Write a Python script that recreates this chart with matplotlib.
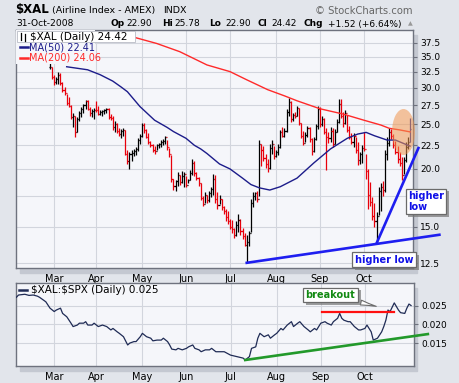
import numpy as np
import pandas as pd
import matplotlib
matplotlib.use("Agg")
import matplotlib.pyplot as plt
from matplotlib.patches import Rectangle, Ellipse
from matplotlib.lines import Line2D
from matplotlib import patheffects

# trading days on the chart (index 0 = 5-Feb-2008)
holidays = ["2008-02-18", "2008-03-21", "2008-05-26", "2008-07-04", "2008-09-01"]
days = pd.bdate_range("2008-02-05", "2008-10-31")
days = days[~days.isin(pd.to_datetime(holidays))]

# $XAL daily bars, first visible bar is trading day 16
first_bar = 16
highs = [34.0, 33.3, 31.9, 31.6, 32.4, 32.3, 30.8, 30.1, 29.0, 28.6,
         27.5, 26.4, 26.0, 25.9, 26.7, 27.3, 27.7, 28.2, 28.2, 27.2,
         27.0, 27.1, 28.0, 27.4, 26.8, 26.9, 27.0, 27.1, 27.1, 26.3,
         26.0, 25.4, 25.1, 24.5, 24.4, 24.5, 24.3, 22.0, 21.8, 22.0,
         22.1, 22.3, 23.3, 23.8, 25.2, 25.1, 24.4, 23.9, 23.0, 22.7,
         22.4, 22.7, 22.8, 23.1, 23.2, 23.6, 23.1, 22.2, 21.4, 19.0,
         18.9, 19.7, 19.4, 19.8, 19.7, 19.3, 19.0, 19.9, 21.0, 20.8,
         19.7, 19.2, 18.6, 17.5, 17.8, 17.6, 17.9, 18.3, 19.5, 19.4,
         17.8, 17.6, 17.2, 16.6, 16.4, 16.2, 15.6, 15.5, 14.9, 15.4,
         16.0, 15.6, 14.9, 14.5, 14.4, 14.7, 17.2, 17.8, 17.8, 17.9,
         23.1, 22.7, 22.4, 21.5, 21.0, 22.6, 23.1, 22.4, 22.0, 22.6,
         24.3, 24.6, 24.5, 27.0, 28.5, 28.0, 26.5, 26.6, 27.4, 27.1,
         25.2, 24.2, 24.0, 24.8, 24.6, 23.3, 23.5, 25.0, 27.4, 27.2,
         26.0, 25.8, 24.5, 24.0, 24.6, 24.5, 24.4, 25.6, 28.4, 28.3,
         26.6, 26.9, 26.2, 24.8, 23.9, 23.9, 23.5, 22.9, 21.8, 22.5,
         24.0, 21.5, 20.0, 18.7, 17.4, 16.9, 16.1, 18.3, 18.6, 18.8,
         22.0, 23.4, 24.5, 24.4, 23.8, 23.0, 22.4, 21.8, 21.2, 21.2,
         22.9, 23.5, 25.78]
lows = [33.0, 31.4, 30.4, 30.6, 30.6, 30.4, 29.4, 28.9, 27.5, 27.2,
        25.7, 24.7, 23.5, 24.1, 25.4, 25.9, 26.5, 27.0, 26.8, 26.0,
        25.9, 25.7, 26.6, 26.2, 26.2, 26.1, 26.3, 26.4, 25.7, 25.5,
        24.3, 24.1, 23.9, 23.6, 23.3, 23.6, 21.4, 20.5, 20.0, 20.8,
        21.3, 21.4, 21.9, 22.6, 23.5, 23.9, 23.3, 22.7, 22.3, 21.8,
        21.6, 22.0, 22.2, 22.3, 22.5, 22.6, 22.0, 21.2, 18.7, 18.0,
        17.9, 18.4, 18.5, 18.6, 18.3, 18.3, 18.6, 18.9, 19.4, 19.3,
        18.9, 18.4, 17.1, 16.6, 16.9, 16.9, 17.0, 17.4, 17.6, 16.9,
        16.4, 16.8, 16.3, 16.0, 15.4, 15.2, 14.8, 14.5, 14.2, 14.3,
        14.6, 14.4, 14.1, 13.6, 12.6, 13.6, 14.6, 16.5, 17.1, 17.0,
        17.5, 20.3, 20.8, 20.1, 19.7, 20.0, 21.6, 21.0, 21.2, 21.4,
        22.2, 23.4, 23.4, 24.1, 26.0, 25.3, 25.4, 25.8, 26.0, 24.9,
        23.3, 22.5, 22.9, 23.4, 22.9, 21.4, 21.8, 23.1, 24.4, 24.6,
        24.8, 23.8, 19.9, 22.8, 22.9, 22.3, 22.6, 24.0, 25.2, 25.8,
        24.6, 25.0, 24.0, 23.2, 22.6, 22.3, 21.7, 20.4, 20.5, 20.6,
        21.9, 19.0, 16.4, 16.6, 15.5, 15.0, 13.8, 15.9, 16.2, 17.5,
        17.8, 20.9, 22.4, 23.2, 22.2, 21.6, 20.6, 20.3, 18.9, 19.5,
        20.7, 22.1, 22.90]
closes = [33.2, 31.6, 30.8, 31.3, 32.0, 30.7, 29.6, 29.2, 27.8, 27.4,
          25.9, 26.1, 24.0, 25.6, 26.4, 27.0, 27.5, 28.0, 27.0, 26.4,
          26.7, 26.9, 26.8, 26.3, 26.6, 26.7, 26.8, 27.0, 25.9, 25.8,
          24.6, 25.0, 24.2, 23.8, 24.2, 24.3, 21.6, 20.8, 21.5, 21.7,
          21.9, 22.1, 23.1, 23.6, 24.9, 24.3, 23.5, 22.9, 22.5, 22.0,
          21.9, 22.5, 22.6, 22.9, 23.0, 23.4, 22.3, 21.5, 19.0, 18.4,
          18.8, 19.4, 18.7, 19.3, 19.5, 18.5, 18.9, 19.6, 20.6, 19.6,
          19.1, 18.6, 17.3, 16.8, 17.6, 17.1, 17.7, 18.1, 19.0, 17.2,
          16.7, 17.2, 16.5, 16.2, 15.7, 15.4, 15.0, 14.8, 14.4, 15.1,
          15.5, 14.7, 14.3, 13.7, 13.9, 14.5, 16.9, 17.5, 17.7, 17.2,
          22.6, 22.0, 21.1, 20.5, 20.1, 22.2, 22.6, 21.3, 21.8, 22.3,
          24.0, 23.6, 24.2, 26.6, 27.9, 25.6, 26.2, 26.0, 27.1, 25.1,
          23.6, 22.8, 23.7, 24.5, 23.2, 21.9, 23.2, 24.8, 27.0, 25.0,
          25.7, 24.0, 23.5, 23.3, 24.2, 22.7, 24.1, 25.3, 27.6, 26.1,
          25.2, 26.5, 24.3, 23.5, 22.9, 23.6, 22.0, 20.9, 21.5, 22.2,
          22.1, 19.8, 17.6, 17.0, 15.8, 15.4, 15.8, 17.9, 18.3, 18.0,
          21.6, 22.8, 24.1, 23.6, 22.5, 21.8, 21.0, 20.6, 19.4, 20.9,
          22.3, 22.90, 24.42]

# moving averages (trading day, value)
ma50_day = [24, 34, 40, 46, 50, 53, 59, 66, 72, 75, 81, 85, 88, 91, 97, 102,
            108, 112, 116, 121, 126, 134, 142, 150, 158, 163, 167, 171, 177,
            181, 185, 188]
ma50_val = [33.3, 32.8, 32.0, 31.0, 30.1, 29.4, 27.3, 25.5, 24.6, 24.1, 23.3,
            22.5, 22.1, 21.6, 20.5, 20.0, 19.1, 18.5, 18.2, 18.0, 18.3, 19.1,
            20.6, 22.1, 23.3, 23.8, 24.0, 23.6, 23.1, 23.1, 22.7, 22.41]
ma200_day = [56, 67, 78, 91, 102, 110, 120, 128, 134, 145, 156, 166, 174,
             178, 183, 188]
ma200_val = [38.6, 37.4, 35.9, 33.6, 32.5, 31.2, 29.7, 28.8, 28.1, 27.0, 26.3,
             25.5, 24.9, 24.5, 24.3, 24.06]

# $XAL:$SPX ratio (trading day, value)
ratio_day = [0, 1, 4, 6, 8, 10, 11, 14, 16, 18,
             19, 21, 22, 24, 26, 27, 29, 30, 32, 33,
             34, 36, 37, 39, 41, 43, 45, 46, 48, 49,
             51, 53, 54, 56, 57, 59, 60, 62, 64, 65,
             67, 69, 70, 72, 73, 74, 76, 77, 79, 81,
             82, 84, 85, 87, 88, 90, 92, 93, 95, 97,
             99, 101, 102, 105, 108, 109, 111, 112, 114, 115,
             116, 118, 120, 121, 123, 124, 126, 127, 129, 131,
             132, 134, 135, 137, 139, 140, 142, 143, 145, 147,
             148, 150, 151, 153, 154, 155, 156, 158, 159, 161,
             163, 164, 166, 167, 169, 170, 172, 174, 175, 176,
             177, 178, 180, 182, 183, 185, 186, 187, 188]
ratio_val = [.0272, .0278, .0280, .0277, .0278, .0275, .0272, .0260, .0243, .0234,
             .0238, .0243, .0229, .0220, .0203, .0194, .0198, .0203, .0203, .0207,
             .0198, .0198, .0203, .0194, .0198, .0194, .0185, .0189, .0180, .0176,
             .0167, .0145, .0150, .0154, .0154, .0167, .0176, .0167, .0163, .0156,
             .0158, .0158, .0163, .0154, .0145, .0134, .0132, .0136, .0132, .0136,
             .0140, .0145, .0136, .0132, .0127, .0132, .0132, .0136, .0127, .0127,
             .0127, .0121, .0118, .0114, .0110, .0105, .0114, .0136, .0140, .0163,
             .0176, .0167, .0172, .0163, .0172, .0176, .0189, .0185, .0198, .0207,
             .0194, .0203, .0207, .0194, .0185, .0180, .0189, .0185, .0203, .0207,
             .0203, .0198, .0207, .0216, .0229, .0216, .0211, .0207, .0207, .0194,
             .0185, .0185, .0189, .0198, .0180, .0158, .0163, .0180, .0194, .0211,
             .0238, .0234, .0257, .0238, .0231, .0229, .0243, .0254, .0250]

# trend lines and marks drawn on the chart
low_line_day, low_line_val = [110, 202], [12.52, 14.4]
steep_line_day, steep_line_val = [172, 192], [13.8, 22.2]
support_day, support_val = [109, 196], [0.0105, 0.0174]
resist_day, resist_val = [145.5, 180], [0.02335, 0.02335]

W, H = 460, 383
BG = "#e2e5eb"
PANEL = "#f5f6fa"
GRID = "#d2d5dd"
EDGE = "#6e727e"


def fx(px):
    return px / W


def fy(py):
    return 1 - py / H


fig = plt.figure(figsize=(W / 100, H / 100), dpi=100, facecolor=BG)
plt.rcParams["font.family"] = ["DejaVu Sans"]

# panel shadows
for top, bot in [(30, 268), (283, 366)]:
    fig.patches.append(Rectangle((fx(20), fy(bot + 5)), 397 / W, (bot - top) / H,
                                 transform=fig.transFigure, color="#c4c8d1", zorder=-1))

ax = fig.add_axes([fx(16), fy(268), 397 / W, 238 / H], facecolor=PANEL)
ax2 = fig.add_axes([fx(16), fy(366), 398 / W, 83 / H], facecolor=PANEL)

month_pos = [i for i in range(1, len(days)) if days[i].month != days[i - 1].month]
month_lab = [days[i].strftime("%b") for i in month_pos]

for a in (ax, ax2):
    a.set_xlim(-0.2, 189.4)
    a.set_xticks(month_pos)
    a.set_xticklabels(month_lab)
    a.yaxis.tick_right()
    a.grid(True, color=GRID, lw=0.8)
    a.set_axisbelow(True)
    a.tick_params(axis="x", length=0, pad=4, labelsize=7)
    a.tick_params(axis="y", length=3, pad=2, labelsize=6.5, color=EDGE)
    for s in a.spines.values():
        s.set_color(EDGE)
        s.set_linewidth(1.0)

# price bars
x = np.arange(first_bar, first_bar + len(closes))
c = np.array(closes)
prev = np.r_[c[0], c[:-1]]
colors = np.where(c >= prev, "black", "#e8000b").astype(object)
colors[-1] = "#1f2e9a"
ax.vlines(x, lows, highs, colors=list(colors), lw=0.9, zorder=3)
ax.hlines(c, x, x + 0.55, colors=list(colors), lw=0.9, zorder=3)
ax.hlines(prev, x - 0.55, x, colors=list(colors), lw=0.9, zorder=3)

ax.plot(ma50_day, ma50_val, color="#1c1c8a", lw=1.0, zorder=4)
ax.plot(ma200_day, ma200_val, color="#ff2a2a", lw=1.0, zorder=4)

ax.set_yscale("log")
ax.set_ylim(12.2, 40.0)
yt = np.arange(12.5, 38, 2.5)
ax.set_yticks(yt)
# the 17.5 label sits behind the "higher low" note on the original
ax.set_yticklabels(["" if abs(v - 17.5) < 0.01 else "%.1f" % v for v in yt])
ax.yaxis.set_minor_locator(matplotlib.ticker.NullLocator())

ax.plot(low_line_day, low_line_val, color="#1e1ef0", lw=1.9, clip_on=False, zorder=6)
ax.plot(steep_line_day, steep_line_val, color="#1e1ef0", lw=1.9, clip_on=False, zorder=6)

ax.add_patch(Ellipse((fx(403.5), fy(132)), 23 / W, 46 / H, transform=fig.transFigure,
                     color="#f09650", alpha=0.55, lw=0, zorder=5, clip_on=False))

shadow = [patheffects.withSimplePatchShadow(offset=(2, -2), shadow_rgbFace="#777777", alpha=0.7)]
box = dict(boxstyle="square,pad=0.25", fc="white", ec="#6a6a6a", lw=0.9)
t1 = ax.text(175.6, 12.72, "higher low", color="#1010e8", fontsize=7, fontweight="bold",
             ha="center", va="center", bbox=box, zorder=8, clip_on=False)
t2 = ax.text(187.0, 17.0, "higher\nlow", color="#1010e8", fontsize=7, fontweight="bold",
             ha="left", va="center", linespacing=1.1, bbox=box, zorder=8, clip_on=False)
for t in (t1, t2):
    t.get_bbox_patch().set_path_effects(shadow)

# ratio panel
ax2.plot(ratio_day, ratio_val, color="#1f2b55", lw=0.9, zorder=3)
ax2.set_ylim(0.0089, 0.031)
ax2.set_yticks([0.015, 0.020, 0.025])
ax2.set_yticklabels(["0.015", "0.020", "0.025"])
ax2.plot(support_day, support_val, color="#22992a", lw=1.9, clip_on=False, zorder=6)
ax2.plot(resist_day, resist_val, color="#ff1010", lw=1.6, zorder=6)
bo = ax2.annotate("breakout", xy=(172.7, 0.0246), xytext=(149.6, 0.0278),
                  color="#138a13", fontsize=7, fontweight="bold", ha="center", va="center",
                  bbox=box, zorder=8,
                  arrowprops=dict(arrowstyle="wedge,tail_width=0.5,shrink_factor=0.4",
                                  fc="white", ec="#6a6a6a", lw=0.8))
bo.get_bbox_patch().set_path_effects(shadow)

# legend areas
fig.patches.append(Rectangle((fx(16), fy(64)), 79 / W, 34 / H, transform=fig.transFigure,
                             fc=PANEL, ec="none", zorder=2))
fig.patches.append(Rectangle((fx(16.5), fy(42)), 118 / W, 11.5 / H, transform=fig.transFigure,
                             fc="white", ec="#b9bcc6", lw=0.6, zorder=2))
for xi, y0, y1 in [(21, 33, 40), (25, 34, 41)]:
    fig.add_artist(Line2D([fx(xi), fx(xi)], [fy(y0), fy(y1)], color="black", lw=0.9, zorder=3))
fig.text(fx(30), fy(36.5), r"\$XAL (Daily) 24.42", fontsize=7.5, va="center", zorder=4)
fig.add_artist(Line2D([fx(20), fx(28)], [fy(47), fy(47)], color="#1c1c8a", lw=1.8, zorder=3))
fig.text(fx(29), fy(47), "MA(50) 22.41", fontsize=7, va="center", color="#1c1c8a", zorder=4)
fig.add_artist(Line2D([fx(20), fx(28)], [fy(57.5), fy(57.5)], color="#ff2a2a", lw=1.8, zorder=3))
fig.text(fx(29), fy(57.5), "MA(200) 24.06", fontsize=7, va="center", color="#ff2a2a", zorder=4)

fig.add_artist(Line2D([fx(19), fx(27)], [fy(290), fy(290)], color="#1f2b55", lw=1.8, zorder=3))
fig.text(fx(31), fy(290), r"\$XAL:\$SPX (Daily) 0.025", fontsize=7.5, va="center", zorder=4)

# header
fig.text(fx(15), fy(10), r"\$XAL", fontsize=8.5, fontweight="bold", va="center")
fig.text(fx(52), fy(10.5), "(Airline Index - AMEX)", fontsize=6.8, va="center")
fig.text(fx(163), fy(10.5), "INDX", fontsize=6.8, va="center")
fig.text(fx(413), fy(10.5), "\u00a9 StockCharts.com", fontsize=7.2, va="center", ha="right",
         color="#666666")
fig.text(fx(16), fy(24), "31-Oct-2008", fontsize=6.6, va="center")
header = [("Op", 111, True), ("22.90", 126, False), ("Hi", 162, True), ("25.78", 174, False),
          ("Lo", 209, True), ("22.90", 225, False), ("Cl", 258, True), ("24.42", 271, False),
          ("Chg", 304, True), ("+1.52 (+6.64%)", 328, False)]
for txt, px, bold in header:
    fig.text(fx(px), fy(24), txt, fontsize=6.5, va="center",
             fontweight="bold" if bold else "normal")
fig.text(fx(410), fy(23.5), "\u25b2", fontsize=4.5, va="center", ha="center", color="#999999")

fig.savefig("out.png", dpi=100, facecolor=BG)
